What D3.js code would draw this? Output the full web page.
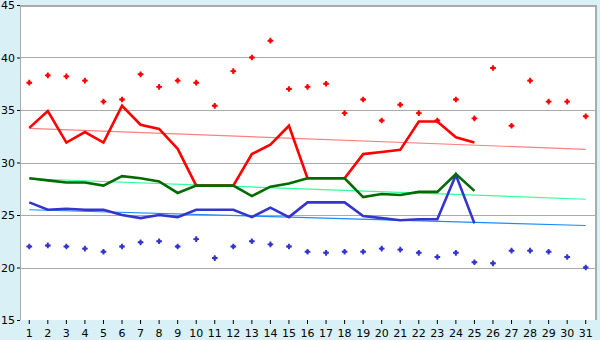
<!DOCTYPE html>
<html>
<head>
<meta charset="utf-8">
<script src="https://cdn.jsdelivr.net/npm/d3@7"></script>
<style>
  html, body { margin: 0; padding: 0; background: #d9f0f6; }
  svg { display: block; font-family: "DejaVu Sans", sans-serif; font-size: 11px; }
  .axis text { fill: #000; }
</style>
</head>
<body>
<svg id="chart" width="600" height="340"></svg>
<script>
/* daily readings, days 1..31 */
const days = d3.range(1, 32);

const maxPoints = [37.6, 38.3, 38.2, 37.8, 35.8, 36.0, 38.4, 37.2, 37.8, 37.6,
                   35.4, 38.7, 40.0, 41.6, 37.0, 37.2, 37.5, 34.7, 36.0, 34.0,
                   35.5, 34.7, 34.0, 36.0, 34.2, 39.0, 33.5, 37.8, 35.8, 35.8, 34.4];

const minPoints = [22.0, 22.1, 22.0, 21.8, 21.5, 22.0, 22.4, 22.5, 22.0, 22.7,
                   20.9, 22.0, 22.5, 22.2, 22.0, 21.5, 21.4, 21.5, 21.5, 21.8,
                   21.7, 21.4, 21.0, 21.4, 20.5, 20.4, 21.6, 21.6, 21.5, 21.0, 20.0];

const redLine   = [33.3, 34.9, 31.9, 32.9, 31.9, 35.4, 33.6, 33.2, 31.3, 27.8,
                   27.8, 27.8, 30.8, 31.7, 33.5, 28.5, 28.5, 28.5, 30.8, 31.0,
                   31.2, 33.9, 33.9, 32.4, 31.9, null, null, null, null, null, null];

const greenLine = [28.5, 28.3, 28.1, 28.1, 27.8, 28.7, 28.5, 28.2, 27.1, 27.8,
                   27.8, 27.8, 26.8, 27.7, 28.0, 28.5, 28.5, 28.5, 26.7, 27.0,
                   26.9, 27.2, 27.2, 28.9, 27.3, null, null, null, null, null, null];

const blueLine  = [26.2, 25.5, 25.6, 25.5, 25.5, 25.0, 24.7, 25.0, 24.8, 25.5,
                   25.5, 25.5, 24.8, 25.7, 24.8, 26.2, 26.2, 26.2, 24.9, 24.7,
                   24.5, 24.6, 24.6, 28.8, 24.2, null, null, null, null, null, null];

/* trend lines: value at day 1 and at day 31 */
const redTrend   = [33.25, 31.25];
const greenTrend = [28.45, 26.5];
const blueTrend  = [25.5, 24.0];

const yTicks = [15, 20, 25, 30, 35, 40, 45];

const svg = d3.select("#chart");

const x = d3.scaleBand().domain(days).range([20, 595]).padding(0);
const cx = d => x(d) + x.bandwidth() / 2;
const y = d3.scaleLinear().domain([15, 45]).range([320, 5]);

/* plot background */
svg.append("rect")
  .attr("x", 20).attr("y", 5)
  .attr("width", 575).attr("height", 315)
  .attr("fill", "#fff");

/* horizontal grid */
svg.append("g")
  .selectAll("line")
  .data(yTicks.filter(v => v > 15 && v < 45))
  .join("line")
  .attr("x1", 20).attr("x2", 595)
  .attr("y1", d => Math.round(y(d)) + 0.5).attr("y2", d => Math.round(y(d)) + 0.5)
  .attr("stroke", "#aaa");

/* frame: top + right, left axis line */
svg.append("path")
  .attr("d", `M20,6 H596 V320`)
  .attr("fill", "none").attr("stroke", "#aaa").attr("stroke-width", 2);
svg.append("line")
  .attr("x1", 20.5).attr("x2", 20.5).attr("y1", 5).attr("y2", 320)
  .attr("stroke", "#aaa");

/* axes */
const yAxis = svg.append("g")
  .attr("class", "axis")
  .attr("transform", "translate(20,0)")
  .call(d3.axisLeft(y).tickValues(yTicks).tickSize(3).tickPadding(2));
yAxis.select(".domain").remove();
yAxis.selectAll(".tick line").attr("stroke", "#000");
yAxis.selectAll("text").attr("font-size", 11).attr("font-family", "DejaVu Sans");

const xAxis = svg.append("g")
  .attr("class", "axis")
  .attr("transform", "translate(0,320)")
  .call(d3.axisBottom(x).tickSize(4).tickPadding(5));
xAxis.select(".domain").remove();
xAxis.selectAll(".tick line").attr("stroke", "#000");
xAxis.selectAll("text").attr("font-size", 11).attr("font-family", "DejaVu Sans");

/* trend lines */
const trends = [
  { v: redTrend,   color: "#ff8080" },
  { v: greenTrend, color: "#33ff99" },
  { v: blueTrend,  color: "#1a8cff" },
];
svg.append("g")
  .selectAll("line")
  .data(trends)
  .join("line")
  .attr("x1", cx(1)).attr("x2", cx(31))
  .attr("y1", d => y(d.v[0])).attr("y2", d => y(d.v[1]))
  .attr("stroke", d => d.color)
  .attr("stroke-width", 1.2);

/* data lines */
const line = d3.line()
  .defined(d => d.v != null)
  .x(d => cx(d.day))
  .y(d => y(d.v));

const series = [
  { v: redLine,   color: "#ff0000" },
  { v: blueLine,  color: "#3535cc" },
  { v: greenLine, color: "#006b00" },
];
svg.append("g")
  .selectAll("path")
  .data(series)
  .join("path")
  .attr("d", s => line(s.v.map((v, i) => ({ day: days[i], v }))))
  .attr("fill", "none")
  .attr("stroke", s => s.color)
  .attr("stroke-width", 2.6)
  .attr("stroke-linejoin", "miter");

/* point markers */
const marker = d3.symbol().type(d3.symbolCross).size(18);
const pointSets = [
  { v: maxPoints, color: "#ff0000" },
  { v: minPoints, color: "#3535cc" },
];
pointSets.forEach(p => {
  svg.append("g")
    .selectAll("path")
    .data(p.v.map((v, i) => ({ day: days[i], v })))
    .join("path")
    .attr("d", marker)
    .attr("transform", d => `translate(${cx(d.day)},${y(d.v)})`)
    .attr("fill", p.color);
  svg.append("g")
    .selectAll("rect")
    .data(p.v.map((v, i) => ({ day: days[i], v })))
    .join("rect")
    .attr("x", d => cx(d.day) - 1.5).attr("y", d => y(d.v) - 1.5)
    .attr("width", 3).attr("height", 3)
    .attr("fill", p.color);
});
</script>
</body>
</html>
